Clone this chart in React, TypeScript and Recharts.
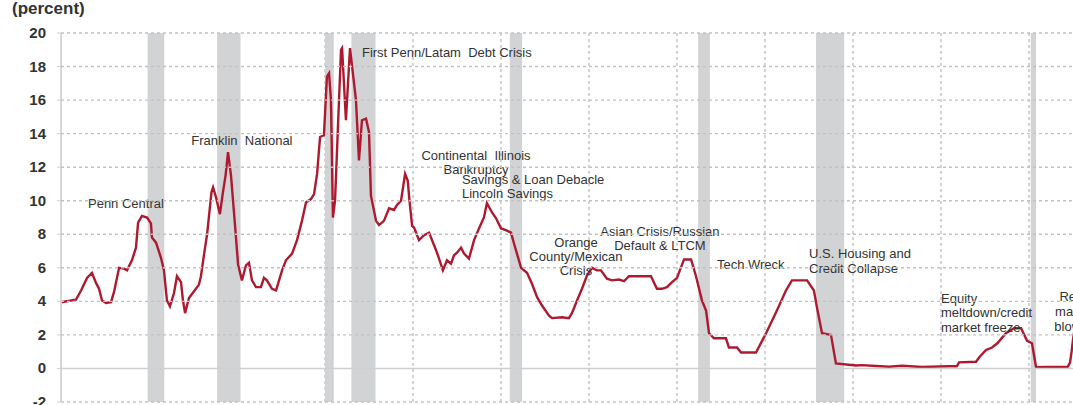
import React from 'react';
import {
  LineChart,
  Line,
  XAxis,
  YAxis,
  CartesianGrid,
  ReferenceArea,
  ReferenceDot,
} from 'recharts';

// decimal year of each reading
const dates = [
  1965.0, 1965.85, 1966.14, 1966.48, 1966.76, 1966.99, 1967.16, 1967.33, 1967.56, 1967.84,
  1968.01, 1968.3, 1968.58, 1968.75, 1969.03, 1969.26, 1969.38, 1969.6, 1969.89, 1970.11,
  1970.17, 1970.4, 1970.68, 1970.85, 1971.02, 1971.19, 1971.42, 1971.59, 1971.82, 1971.93,
  1972.05, 1972.27, 1972.56, 1972.84, 1972.95, 1973.1, 1973.3, 1973.45, 1973.55, 1973.64,
  1973.81, 1974.03, 1974.2, 1974.35, 1974.49, 1974.66, 1974.89, 1975.06, 1975.28, 1975.51,
  1975.68, 1975.85, 1976.08, 1976.36, 1976.53, 1976.7, 1976.99, 1977.22, 1977.39, 1977.56,
  1977.78, 1978.13, 1978.41, 1978.69, 1978.92, 1979.2, 1979.38, 1979.55, 1979.72, 1979.94,
  1980.11, 1980.23, 1980.34, 1980.45, 1980.57, 1980.74, 1980.91, 1980.97, 1981.19, 1981.42,
  1981.76, 1981.93, 1982.1, 1982.33, 1982.5, 1982.61, 1982.9, 1983.07, 1983.35, 1983.64,
  1983.92, 1984.09, 1984.32, 1984.55, 1984.7, 1984.8, 1984.95, 1985.06, 1985.34, 1985.63,
  1985.91, 1986.31, 1986.48, 1986.7, 1986.93, 1987.16, 1987.33, 1987.5, 1987.73, 1987.9,
  1988.18, 1988.47, 1988.75, 1989.03, 1989.2, 1989.49, 1989.72, 1990.0, 1990.28, 1990.57,
  1990.74, 1991.14, 1991.48, 1991.76, 1992.05, 1992.33, 1992.73, 1992.9, 1993.47, 1993.86,
  1994.03, 1994.32, 1994.6, 1994.89, 1995.17, 1995.45, 1995.68, 1996.02, 1996.31, 1996.7,
  1996.99, 1997.27, 1997.84, 1998.52, 1998.86, 1999.15, 1999.43, 1999.72, 2000.0, 2000.4,
  2000.8, 2001.08, 2001.42, 2001.65, 2001.82, 2002.1, 2002.78, 2002.95, 2003.41, 2003.64,
  2004.49, 2005.06, 2005.63, 2006.19, 2006.53, 2007.39, 2007.78, 2007.95, 2008.24, 2008.75,
  2009.03, 2010.17, 2010.51, 2011.31, 2012.05, 2012.78, 2013.92, 2015.45, 2015.9, 2016.02,
  2016.99, 2017.2, 2017.56, 2017.9, 2018.2, 2018.69, 2019.15, 2019.55, 2019.89, 2020.17,
  2020.4, 2021.0, 2022.2, 2022.33, 2022.42, 2022.5, 2022.6, 2022.75,
];

// fed funds rate, percent
const fedFunds = [
  3.95, 4.1, 4.65, 5.4, 5.7, 5.1, 4.75, 4.05, 3.9, 3.95,
  4.55, 6.0, 5.95, 5.85, 6.45, 7.2, 8.7, 9.1, 9.0, 8.65,
  7.8, 7.5, 6.6, 5.85, 4.05, 3.7, 4.5, 5.5, 5.15, 4.05,
  3.3, 4.2, 4.6, 5.0, 5.5, 6.6, 8.0, 9.5, 10.5, 10.8,
  10.2, 9.2, 10.5, 11.5, 12.9, 11.5, 8.5, 6.2, 5.25, 6.15,
  6.3, 5.25, 4.85, 4.85, 5.4, 5.25, 4.75, 4.65, 5.25, 5.85,
  6.45, 6.85, 7.65, 8.8, 9.9, 10.1, 10.4, 11.6, 13.8, 13.9,
  17.4, 17.6, 16.0, 9.0, 10.0, 14.5, 19.0, 19.1, 14.8, 19.1,
  16.0, 12.4, 14.8, 14.9, 14.1, 10.3, 8.8, 8.55, 8.8, 9.55,
  9.45, 9.75, 10.0, 11.6, 11.2, 10.0, 8.5, 8.4, 7.65, 7.95,
  8.1, 7.05, 6.55, 5.85, 6.45, 6.25, 6.75, 6.9, 7.2, 6.85,
  6.55, 7.65, 8.35, 9.0, 9.85, 9.3, 8.95, 8.35, 8.25, 8.1,
  7.45, 6.0, 5.7, 5.05, 4.25, 3.75, 3.15, 3.0, 3.05, 3.0,
  3.3, 4.05, 4.75, 5.55, 6.0, 5.85, 5.85, 5.35, 5.25, 5.3,
  5.2, 5.5, 5.5, 5.5, 4.75, 4.75, 4.85, 5.15, 5.4, 6.5,
  6.5, 5.5, 4.05, 3.45, 2.1, 1.8, 1.8, 1.25, 1.25, 0.95,
  0.95, 2.1, 3.35, 4.65, 5.25, 5.25, 4.65, 3.65, 2.1, 2.0,
  0.3, 0.18, 0.2, 0.15, 0.1, 0.16, 0.09, 0.13, 0.13, 0.36,
  0.4, 0.7, 1.1, 1.25, 1.5, 2.1, 2.4, 2.4, 1.65, 1.5,
  0.07, 0.09, 0.1, 0.35, 1.0, 1.7, 2.4, 3.0,
];

const recessions = [
  [1969.92, 1970.87],
  [1973.87, 1975.2],
  [1980.0, 1980.5],
  [1981.5, 1982.87],
  [1990.5, 1991.2],
  [2001.2, 2001.87],
  [2007.9, 2009.5],
  [2020.1, 2020.4],
];

const yTicks = [-2, 0, 2, 4, 6, 8, 10, 12, 14, 16, 18, 20];
const xTicks = [1965, 1970, 1975, 1980, 1985, 1990, 1995, 2000, 2005, 2010, 2015, 2020, 2025];

// crisis notes, anchored at (year, percent) of the first line
const notes = [
  { x: 1968.69, y: 9.86, anchor: 'middle', lh: 14, lines: ['Penn Central'] },
  { x: 1975.28, y: 13.62, anchor: 'middle', lh: 14, lines: ['Franklin  National'] },
  { x: 1982.1, y: 18.81, anchor: 'start', lh: 14, lines: ['First Penn/Latam  Debt Crisis'] },
  { x: 1988.58, y: 12.67, anchor: 'middle', lh: 14, lines: ['Continental  Illinois', 'Bankruptcy'] },
  { x: 1987.78, y: 11.24, anchor: 'start', lh: 13.5, lines: ['Savings & Loan Debacle', 'Lincoln Savings'] },
  { x: 1994.26, y: 7.52, anchor: 'middle', lh: 14, lines: ['Orange', 'County/Mexican', 'Crisis'] },
  { x: 1999.03, y: 8.17, anchor: 'middle', lh: 14, lines: ['Asian Crisis/Russian', 'Default & LTCM'] },
  { x: 2002.27, y: 6.17, anchor: 'start', lh: 14, lines: ['Tech Wreck'] },
  { x: 2007.5, y: 6.88, anchor: 'start', lh: 15, lines: ['U.S. Housing and', 'Credit Collapse'] },
  { x: 2015.0, y: 4.2, anchor: 'start', lh: 14.5, lines: ['Equity', 'meltdown/credit', 'market freeze'] },
  { x: 2022.61, y: 4.28, anchor: 'middle', lh: 15, lines: ['Repo', 'market', 'blowup'] },
];

const data = dates.map((year, i) => ({ year, rate: fedFunds[i] }));

const font = '"Liberation Sans", Arial, sans-serif';
const CHART_W = 1117;
const AXIS_W = 61;

// y tick: label plus a gridline running across the plot
const YTick = (props: any) => {
  const { x, y, payload } = props;
  const v = payload.value;
  const zero = v === 0;
  return (
    <g>
      <line
        x1={AXIS_W}
        x2={CHART_W}
        y1={y}
        y2={y}
        stroke={zero ? '#cfcfcf' : '#c2c2c2'}
        strokeWidth={zero ? 1.5 : 1.4}
        strokeDasharray={zero ? undefined : '3 3'}
      />
      <text
        x={x}
        y={y}
        dy={5}
        textAnchor="end"
        fill="#333"
        fontSize={15}
        fontWeight="bold"
        fontFamily={font}
      >
        {v}
      </text>
    </g>
  );
};

const Note = (props: any) => {
  const { cx, cy, lines, anchor, lh } = props;
  return (
    <text
      x={cx}
      y={cy + 4.5}
      textAnchor={anchor}
      fontSize={13}
      fill="#333"
      fontFamily={font}
      style={{ whiteSpace: 'pre' }}
    >
      {lines.map((l: string, i: number) => (
        <tspan key={i} x={cx} dy={i === 0 ? 0 : lh}>
          {l}
        </tspan>
      ))}
    </text>
  );
};

export default function App() {
  return (
    <div
      style={{
        position: 'absolute',
        left: 0,
        top: 0,
        width: 1073,
        height: 405,
        overflow: 'hidden',
        background: '#fff',
      }}
    >
      <div
        style={{
          position: 'absolute',
          left: 12,
          top: -1,
          fontFamily: font,
          fontWeight: 'bold',
          fontSize: 17,
          color: '#333',
        }}
      >
        (percent)
      </div>
      <LineChart
        width={CHART_W}
        height={405}
        data={data}
        margin={{ top: 33, right: 0, bottom: 3, left: 0 }}
      >
        {recessions.map(([a, b], i) => (
          <ReferenceArea
            key={i}
            x1={a}
            x2={b}
            y1={-2}
            y2={20}
            fill="#d2d3d5"
            fillOpacity={1}
            stroke="none"
          />
        ))}
        <CartesianGrid
          horizontal={false}
          stroke="#c2c2c2"
          strokeWidth={1.4}
          strokeDasharray="3 3"
        />
        <XAxis
          dataKey="year"
          type="number"
          domain={[1965, 2025]}
          ticks={xTicks}
          interval={0}
          tick={() => <g />}
          axisLine={false}
          tickLine={false}
          height={0}
        />
        <YAxis
          type="number"
          domain={[-2, 20]}
          ticks={yTicks}
          width={AXIS_W}
          interval={0}
          axisLine={{ stroke: '#d6d6d6', strokeWidth: 2 }}
          tickLine={{ stroke: '#cfcfcf' }}
          tickSize={4}
          tickMargin={11}
          tick={<YTick />}
        />
        <Line
          type="linear"
          dataKey="rate"
          stroke="#ad1a30"
          strokeWidth={2.4}
          dot={false}
          isAnimationActive={false}
        />
        {notes.map((n, i) => (
          <ReferenceDot
            key={i}
            x={n.x}
            y={n.y}
            r={1}
            shape={(p: any) => (
              <Note cx={p.cx} cy={p.cy} lines={n.lines} anchor={n.anchor} lh={n.lh} />
            )}
          />
        ))}
      </LineChart>
    </div>
  );
}
